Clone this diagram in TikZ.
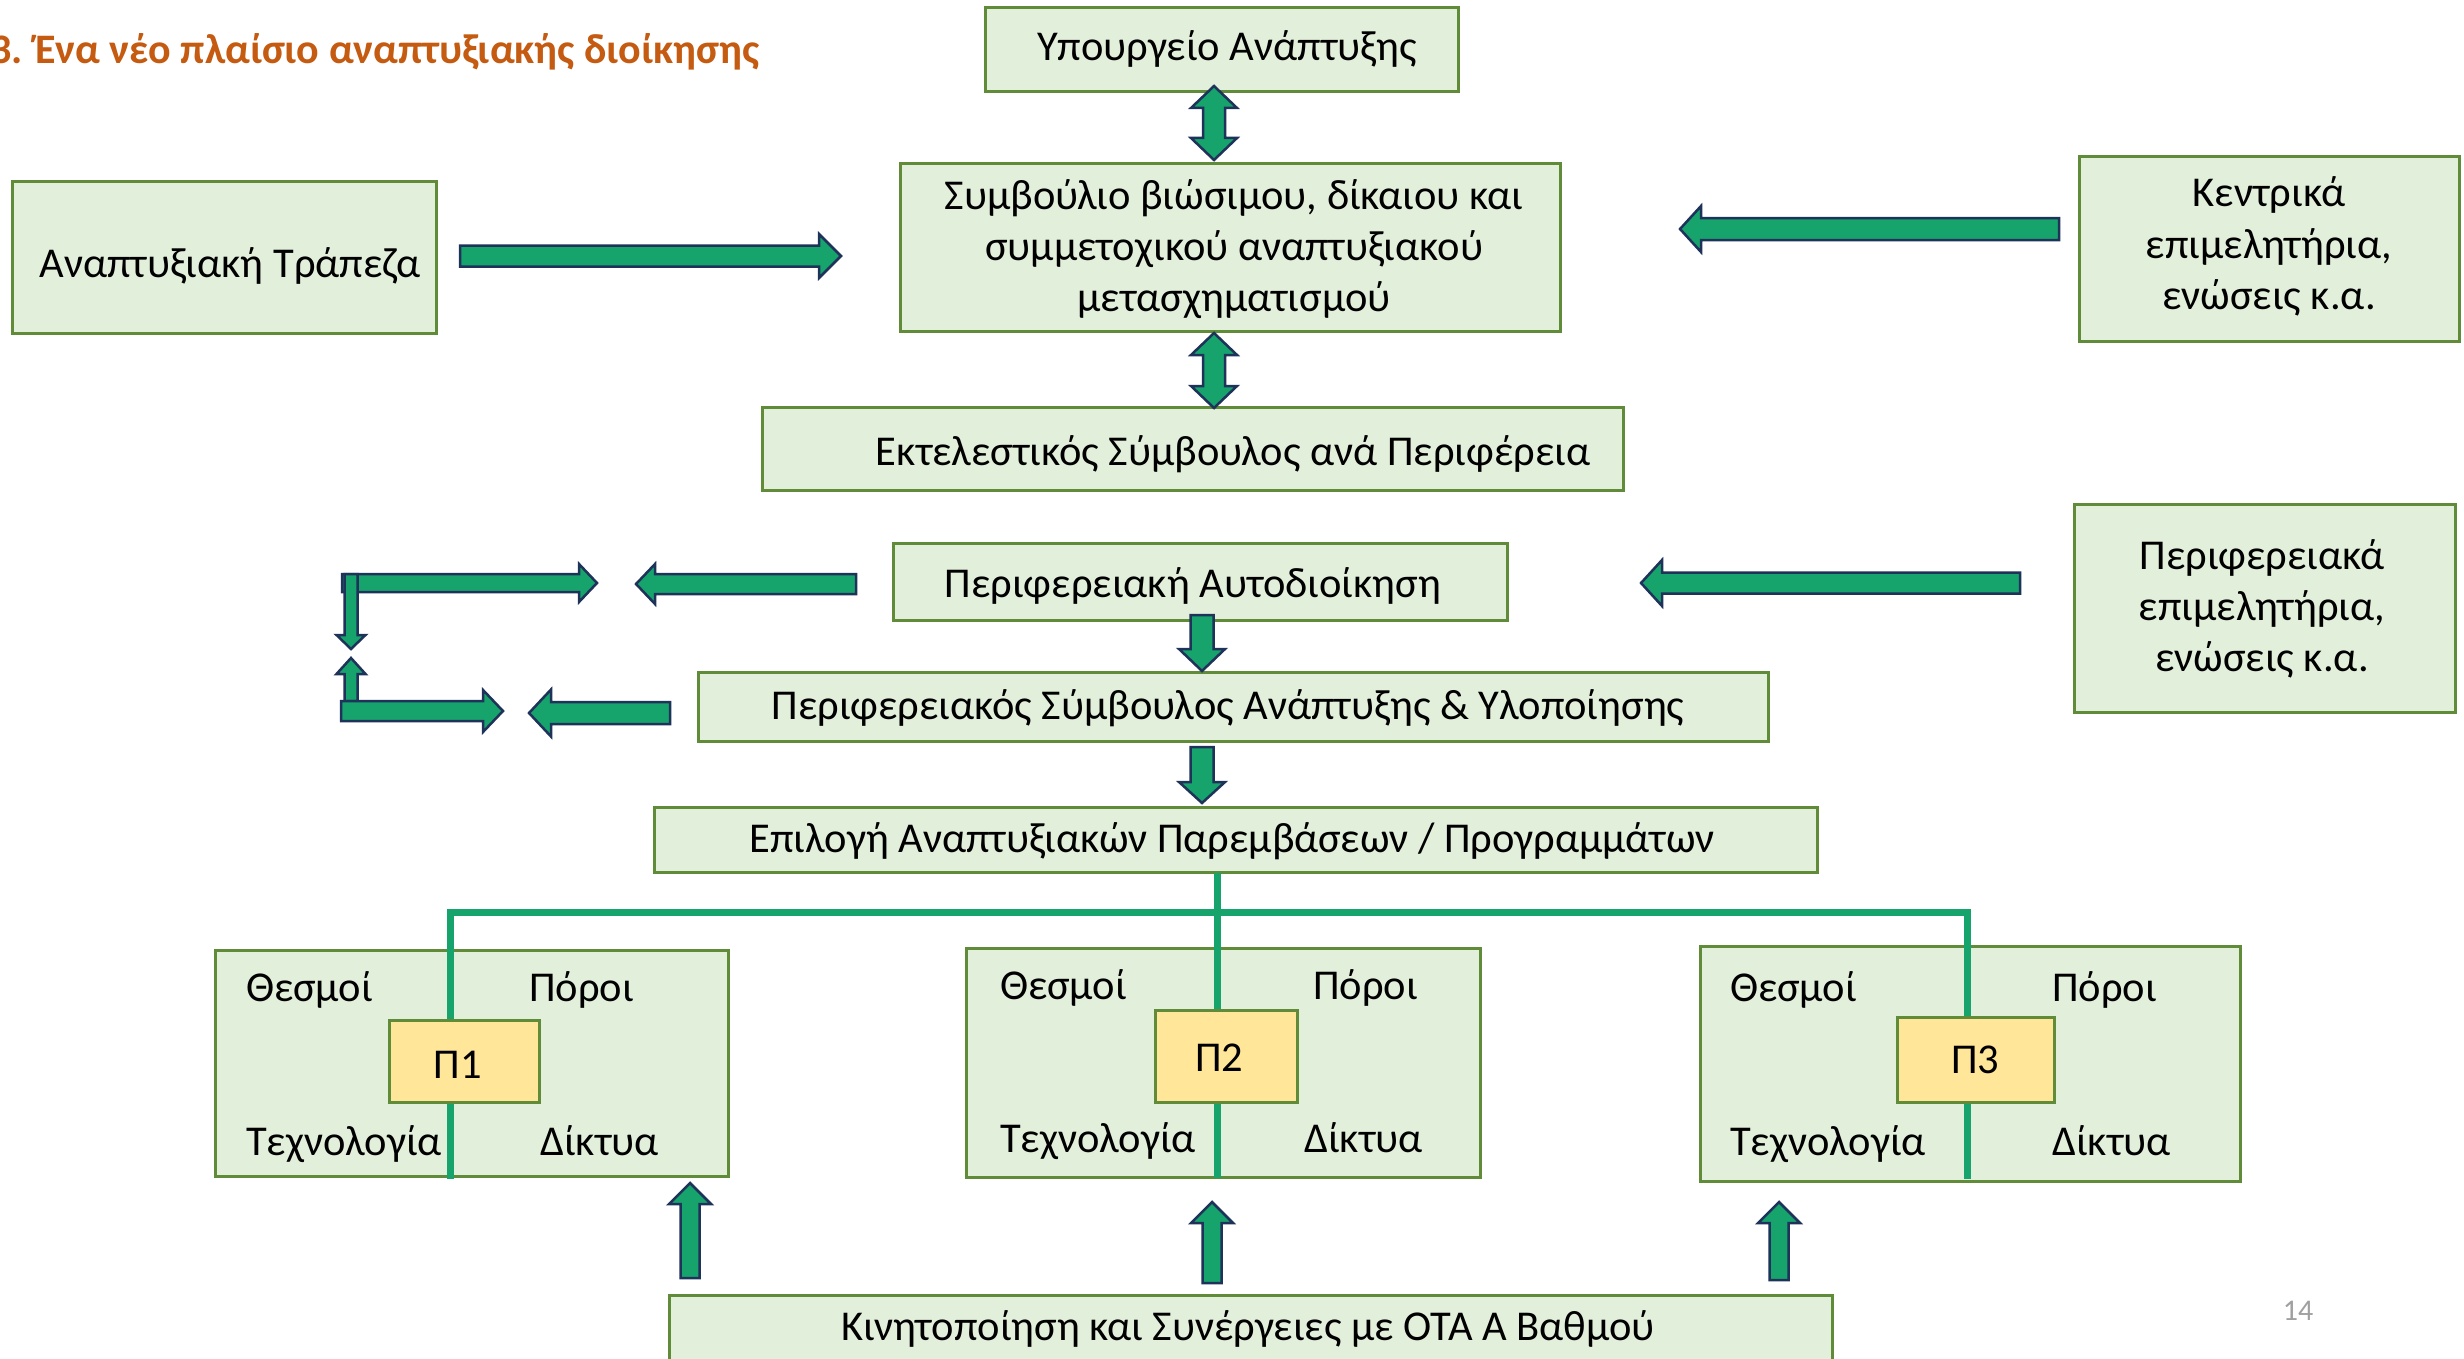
\documentclass[tikz,border=0pt]{standalone}
\usepackage{fontspec}
\setmainfont{Carlito}
\definecolor{boxfill}{RGB}{226,239,218}
\definecolor{boxline}{RGB}{96,140,58}
\definecolor{arrfill}{RGB}{22,163,108}
\definecolor{arrline}{RGB}{30,50,90}
\definecolor{pfill}{RGB}{255,230,153}
\definecolor{ttl}{RGB}{197,90,17}
\definecolor{pgnum}{RGB}{160,160,160}
\newcommand{\BlkH}[6]{\draw[blk] (#1,#4-#5) -- (#2,#4-#5) -- (#2,#4-#6) -- (#3,#4) -- (#2,#4+#6) -- (#2,#4+#5) -- (#1,#4+#5) -- cycle;}
\newcommand{\BlkV}[6]{\draw[blk] (#4-#5,#1) -- (#4-#5,#2) -- (#4-#6,#2) -- (#4,#3) -- (#4+#6,#2) -- (#4+#5,#2) -- (#4+#5,#1) -- cycle;}
\newcommand{\BlkD}[7]{\draw[blk] (#5,#1) -- (#5+#7,#2) -- (#5+#6,#2) -- (#5+#6,#3) -- (#5+#7,#3) -- (#5,#4) -- (#5-#7,#3) -- (#5-#6,#3) -- (#5-#6,#2) -- (#5-#7,#2) -- cycle;}
\tikzset{
  box/.style={draw=boxline, fill=boxfill, line width=3pt, inner sep=0pt},
  pbox/.style={draw=boxline, fill=pfill, line width=3pt, inner sep=0pt},
  blk/.style={draw=arrline, fill=arrfill, line width=2.5pt, line join=miter},
  tree/.style={draw=arrfill, line width=7pt},
  lbl/.style={font=\fontsize{42.5}{51}\selectfont, inner sep=0pt, anchor=base},
  lblw/.style={lbl, anchor=base west},
}
\begin{document}
\begin{tikzpicture}[x=1pt,y=-1pt]
\useasboundingbox[fill=white] (0,0) rectangle (2464,1359);
% title
\node[font=\fontsize{42}{50}\selectfont\bfseries, text=ttl, inner sep=0pt, anchor=base west] (title) at (-10,64) {3. Ένα νέο πλαίσιο αναπτυξιακής διοίκησης};
% boxes
\node[box, minimum width=473pt, minimum height=84pt] (ypo) at (1221.5,50) {};
\node[box, minimum width=660pt, minimum height=167pt] (sym) at (1230,247.5) {};
\node[box, minimum width=861pt, minimum height=83pt] (ekt) at (1192.5,448.5) {};
\node[box, minimum width=614pt, minimum height=77pt] (pa) at (1200,581.5) {};
\node[box, minimum width=1070pt, minimum height=69pt] (ps) at (1233,706.5) {};
\node[box, minimum width=1163pt, minimum height=65pt] (ep) at (1235.5,839.5) {};
\node[box, minimum width=424pt, minimum height=151pt] (at) at (224,257.5) {};
\node[box, minimum width=380pt, minimum height=184pt] (ke) at (2269,249) {};
\node[box, minimum width=381pt, minimum height=208pt] (pe) at (2264.5,608) {};
\node[box, minimum width=1163pt, minimum height=85pt] (kin) at (1250.5,1337.5) {};
\node[box, minimum width=513pt, minimum height=226pt] (g1) at (471.5,1063) {};
\node[box, minimum width=514pt, minimum height=229pt] (g2) at (1223,1062.5) {};
\node[box, minimum width=540pt, minimum height=235pt] (g3) at (1970,1063.5) {};
% tree lines
\draw[tree] (450,1179) -- (450,912) -- (1967,912) -- (1967,1179);
\draw[tree] (1217,873) -- (1217,1178);
% P boxes
\node[pbox, minimum width=150pt, minimum height=82pt] (p1) at (464,1061) {};
\node[pbox, minimum width=142pt, minimum height=92pt] (p2) at (1226,1056) {};
\node[pbox, minimum width=157pt, minimum height=85pt] (p3) at (1975.5,1059.5) {};
% texts
\node[lbl] (ypot) at (1227,61) {Υπουργείο Ανάπτυξης};
\node[lbl] (symt1) at (1234,209) {Συμβούλιο βιώσιμου, δίκαιου και};
\node[lbl] (symt2) at (1234,260) {συμμετοχικού αναπτυξιακού};
\node[lbl] (symt3) at (1234,311) {μετασχηματισμού};
\node[lbl] (ektt) at (1233,465) {Εκτελεστικός Σύμβουλος ανά Περιφέρεια};
\node[lbl] (pat) at (1193,597) {Περιφερειακή Αυτοδιοίκηση};
\node[lbl] (pst) at (1228,719) {Περιφερειακός Σύμβουλος Ανάπτυξης \& Υλοποίησης};
\node[lbl] (ept) at (1232,852) {Επιλογή Αναπτυξιακών Παρεμβάσεων / Προγραμμάτων};
\node[lbl] (att) at (230,277.5) {Αναπτυξιακή Τράπεζα};
\node[lbl] (ket1) at (2269,207) {Κεντρικά};
\node[lbl] (ket2) at (2269,258) {επιμελητήρια,};
\node[lbl] (ket3) at (2269,309) {ενώσεις κ.α.};
\node[lbl] (pet1) at (2262,569) {Περιφερειακά};
\node[lbl] (pet2) at (2262,620) {επιμελητήρια,};
\node[lbl] (pet3) at (2262,671) {ενώσεις κ.α.};
\node[lbl] (kint) at (1248,1340) {Κινητοποίηση και Συνέργειες με ΟΤΑ Α Βαθμού};
\node[lblw] (g1a) at (246,1001) {Θεσμοί};
\node[lblw] (g1b) at (529,1001) {Πόροι};
\node[lblw] (g1c) at (246,1155) {Τεχνολογία};
\node[lblw] (g1d) at (540,1155) {Δίκτυα};
\node[lblw] (g2a) at (1000,999) {Θεσμοί};
\node[lblw] (g2b) at (1313,999) {Πόροι};
\node[lblw] (g2c) at (1000,1152) {Τεχνολογία};
\node[lblw] (g2d) at (1304,1152) {Δίκτυα};
\node[lblw] (g3a) at (1730,1001) {Θεσμοί};
\node[lblw] (g3b) at (2052,1001) {Πόροι};
\node[lblw] (g3c) at (1730,1155) {Τεχνολογία};
\node[lblw] (g3d) at (2052,1155) {Δίκτυα};
\node[lbl] (p1t) at (458,1078) {Π1};
\node[lbl] (p2t) at (1219,1071) {Π2};
\node[lbl] (p3t) at (1975,1073) {Π3};
\node[font=\fontsize{30}{36}\selectfont, text=pgnum, inner sep=0pt, anchor=base] (pg) at (2298,1320) {14};
% block arrows
\BlkD{86}{108}{138}{160}{1214}{11}{23}
\BlkD{333}{355}{386}{408}{1214}{11}{23}
\BlkH{460}{819}{841}{256}{10.5}{22}
\BlkH{2059}{1701}{1680}{229}{11}{23}
\BlkH{2020}{1662}{1641}{583}{10.5}{23}
\BlkH{856}{655}{636}{584}{10}{20}
\BlkH{342}{579}{597}{583}{9}{19}
\BlkV{574}{635}{649}{351}{6.5}{14.5}
\BlkV{701}{674}{658}{351}{6.5}{14.5}
\BlkH{341}{483}{503}{711}{10}{21}
\BlkH{670}{551}{529}{713}{11}{23.5}
\BlkV{615}{649}{671}{1202}{11.5}{23}
\BlkV{747}{782}{803}{1202}{11.5}{23}
\BlkV{1278}{1204}{1183}{690}{9.5}{21}
\BlkV{1283}{1223}{1202}{1212}{9.5}{21}
\BlkV{1280}{1223}{1202}{1779}{9.5}{21}
\end{tikzpicture}
\end{document}
